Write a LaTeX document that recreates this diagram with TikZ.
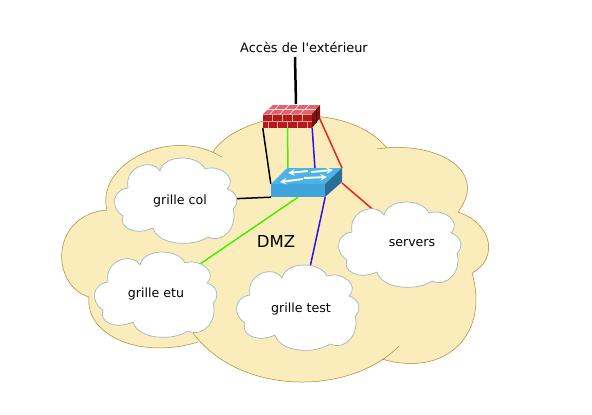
\documentclass[tikz,border=0pt]{standalone}
\usepackage{fontspec}
\setmainfont[Ligatures=TeXOff]{DejaVu Sans}
\usetikzlibrary{backgrounds}

\definecolor{dmzFill}{HTML}{FBEDBB}
\definecolor{dmzLine}{HTML}{A58B3A}
\definecolor{cloudLine}{HTML}{9DB8BC}
\definecolor{brick}{HTML}{B51A1A}
\definecolor{brickTop}{HTML}{E0646C}
\definecolor{brickSide}{HTML}{7A1212}
\definecolor{mortar}{HTML}{E8A0A0}
\definecolor{swFront}{HTML}{3FA4DA}
\definecolor{swTop}{HTML}{4DB3E6}
\definecolor{swSide}{HTML}{2A6F97}
\definecolor{linkGreen}{HTML}{44F000}
\definecolor{linkBlue}{HTML}{2A10F0}
\definecolor{linkRed}{HTML}{F02020}

\def\lobeA{(213,152) .. controls (238,112) and (345,98) .. (387,148)}
\def\lobeB{(377,149) .. controls (435,140) and (490,170) .. (458,212)}
\def\lobeC{(458,212) .. controls (495,225) and (497,260) .. (472,273)}
\def\lobeD{(472,273) .. controls (490,335) and (445,378) .. (382,359)}
\def\lobeE{(399,346) .. controls (350,396) and (240,396) .. (193,333)}
\def\lobeF{(198,342) .. controls (140,360) and (85,335) .. (89,297)}
\def\lobeG{(89,297) .. controls (50,285) and (50,215) .. (107,210)}
\def\lobeH{(107,210) .. controls (95,165) and (170,125) .. (222,157)}

\tikzset{
	label/.style = {font=\fontsize{12.6}{15}\selectfont, inner sep=0pt},
	link/.style = {line width=1.5pt},
	dmzlobe/.style = {draw=dmzLine, line width=0.5pt},
	smallcloud/.pic = {
		\draw [fill=white, draw=cloudLine, line width=0.7pt]
			(-52,-12) .. controls (-56,-34) and (-28,-42) .. (-20,-29)
			.. controls (-16,-46) and (18,-46) .. (25,-31)
			.. controls (40,-36) and (58,-22) .. (47,-11)
			.. controls (60,-7) and (58,6) .. (53,9)
			.. controls (58,26) and (44,44) .. (28,37)
			.. controls (14,47) and (-22,46) .. (-27,28)
			.. controls (-44,36) and (-62,28) .. (-57,16)
			.. controls (-70,8) and (-68,-10) .. (-52,-12)
			-- cycle;
	}
}

\begin{document}
\begin{tikzpicture}[x=1pt, y=-1pt]
	\useasboundingbox (0,0) rectangle (592,415);

	% clouds inside the dmz
	\pic at (180,200) {smallcloud};
	\pic at (160,294) {smallcloud};
	\pic at (302,307) {smallcloud};
	\pic at (404,244) {smallcloud};

	\node [label] (col) at (180,201) {grille col};
	\node [label] (etu) at (156,294) {grille etu};
	\node [label] (test) at (301,309) {grille test};
	\node [label] (serv) at (412,243) {servers};
	\node [label, font=\fontsize{16.5}{19}\selectfont] (dmz) at (276,241) {DMZ};
	\node [label, font=\fontsize{12.9}{15}\selectfont] (ext) at (304,47) {Accès de l'extérieur};

	% firewall
	\node [minimum width=49pt, minimum height=14pt, inner sep=0pt, fill=brick] (fw) at (287.5,121) {};
	\fill [brickTop] (263,114) -- (273,105) -- (320,105) -- (312,114) -- cycle;
	\fill [brickSide] (312,114) -- (320,105) -- (320,118) -- (312,128) -- cycle;
	\begin{scope}[mortar, line width=0.7pt]
		\draw (263,114) -- (312,114);
		\draw (263,121) -- (312,121);
		\foreach \x in {272,282,292,302}
			\draw (\x,114) -- (\x,121);
		\foreach \x in {268,277,287,297,307}
			\draw (\x,121) -- (\x,128);
	\end{scope}
	\begin{scope}[white!80!brickTop, line width=0.7pt]
		\draw (268,109.5) -- (316,109.5);
		\foreach \x in {278,288,298,308}
			\draw (\x+1,105) -- (\x-3,109.5);
		\foreach \x in {273,283,293,303}
			\draw (\x+1,109.5) -- (\x-3,114);
	\end{scope}
	\draw [brickSide!70!black, line width=0.5pt] (316,110) -- (316,123);
	\coordinate (fwtop) at (296,104);
	\coordinate (fwside) at (319,117);

	% switch
	\node [minimum width=54pt, minimum height=13pt, inner sep=0pt, fill=swFront] (sw) at (298,190.5) {};
	\fill [swTop] (271,184) -- (287,168) -- (342,168) -- (325,184) -- cycle;
	\fill [swSide] (325,184) -- (342,168) -- (342,182) -- (325,197) -- cycle;
	\begin{scope}[white, line width=1.9pt, -stealth]
		\draw (308,171) -- (288,173);
		\draw (311,172) -- (333,170);
		\draw (303,179) -- (280,182);
		\draw (304,178) -- (327,177);
	\end{scope}
	\coordinate (swa) at (288,169);
	\coordinate (swb) at (315,169);
	\coordinate (swc) at (342,168);
	\coordinate (swd) at (342,183);
	\coordinate (extend) at (295,57);

	\begin{scope}[on background layer]
		% dmz cloud
		\filldraw [dmzFill] (213,152) -- (387,148) -- (458,212) -- (472,273) -- (382,359)
			-- (193,340) -- (89,297) -- (107,210) -- cycle;
		\foreach \lobe in {\lobeA,\lobeB,\lobeC,\lobeD,\lobeE,\lobeF,\lobeG,\lobeH}
			\filldraw [dmzFill] \lobe -- cycle;
		\foreach \lobe in {\lobeA,\lobeB,\lobeC,\lobeD,\lobeE,\lobeF,\lobeG,\lobeH}
			\draw [dmzlobe] \lobe;

		% links
		\draw [link, black] (fw.south west) -- (sw.north west);
		\draw [link, linkGreen] (fw.south) -- (swa);
		\draw [link, linkBlue] (fw.south east) -- (swb);
		\draw [link, linkRed] (fwside) -- (swc);
		\draw [link, black] (sw.south west) -- (col);
		\draw [link, linkGreen] (sw.south) -- (etu);
		\draw [link, linkBlue] (sw.south east) -- (test);
		\draw [link, linkRed] (swd) -- (serv);
		\draw [black, line width=2.5pt] (extend) -- (fwtop);
	\end{scope}
\end{tikzpicture}
\end{document}
